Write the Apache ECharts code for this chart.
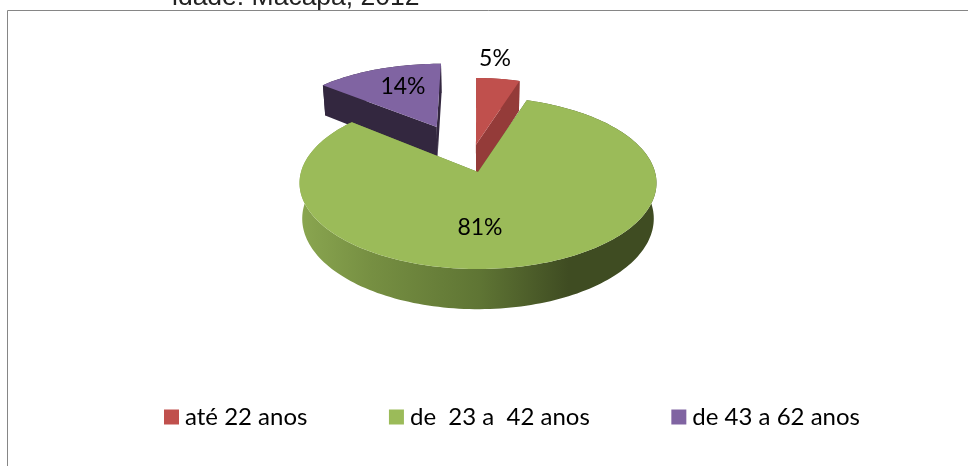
<!DOCTYPE html>
<html lang="pt">
<head>
    <meta charset="utf-8"/>
    <title>Idade</title>
    <style>
        html, body { margin: 0; padding: 0; background: #fff; overflow: hidden; }
        #chart { width: 968px; height: 466px; }
    </style>
    <script src="https://cdn.jsdelivr.net/npm/echarts@6/dist/echarts.min.js"></script>
</head>
<body>
    <div id="chart"></div>
    <script>
        const titleText = 'idade. Macapá, 2012';
        const categories = ['até 22 anos', 'de  23 a  42 anos', 'de 43 a 62 anos'];
        const percents = [5, 81, 14];

        // colours, per category
        const topColors = ['#c0504d', '#9bbb59', '#8064a2'];
        const sideColors = ['#943b39', '#5f7534', '#33273f'];
        // how far each slice is pulled out on the pie's plane, in radii
        const explodeU = [-0.012, 0, -0.25];
        const explodeV = [-0.335, 0, -0.57];
        const scaleU = [0.92, 1, 0.985];
        const scaleV = [0.96, 1, 0.96];
        const labelX = [495, 480, 403];
        const labelY = [59, 228, 87];
        // green goes last so it covers the feet of the other two
        const drawOrder = [1, 3, 2];

        // perspective of the pie plane
        const cx = 478, radius = 177;
        const persp = { a: 62.6, b: 172, c: -0.128 };
        const depth = 35, footShrink = 0.985;

        function project(u, v) {
            const den = persp.c * v + 1;
            return [cx + radius * u / den, (persp.a * v + persp.b) / den];
        }
        function foot(u, v) {
            const den = persp.c * v + 1;
            const p = project(u, v);
            return [cx + (p[0] - cx) * footShrink, p[1] + depth / den];
        }
        function arc(fn, idx, from, to) {
            const pts = [];
            const steps = Math.max(2, Math.ceil((to - from) / 1.5));
            for (let i = 0; i <= steps; i++) {
                const deg = from + (to - from) * i / steps;
                const rad = deg * Math.PI / 180;
                pts.push(fn(explodeU[idx] + scaleU[idx] * Math.sin(rad), explodeV[idx] - scaleV[idx] * Math.cos(rad)));
            }
            return pts;
        }

        function sliceRenderer(idx) {
            const total = percents.reduce((s, x) => s + x, 0);
            const before = percents.slice(0, idx).reduce((s, x) => s + x, 0);
            const from = before / total * 360;
            const to = (before + percents[idx]) / total * 360;
            return function () {
                const apexTop = project(explodeU[idx], explodeV[idx]);
                const apexFoot = foot(explodeU[idx], explodeV[idx]);
                const rimTop = arc(project, idx, from, to);
                const rimFoot = arc(foot, idx, from, to);
                let sideFill = sideColors[idx];
                if (idx === 1) {
                    sideFill = new echarts.graphic.LinearGradient(300, 0, 658, 0, [
                        { offset: 0, color: '#8aa650' },
                        { offset: 0.2, color: '#768f42' },
                        { offset: 0.5, color: '#5f7534' },
                        { offset: 0.75, color: '#3f4c22' },
                        { offset: 1, color: '#3f4c22' }
                    ], true);
                }
                const last = rimTop.length - 1;
                return {
                    type: 'group',
                    children: [
                        { type: 'polygon', shape: { points: rimTop.concat(rimFoot.slice().reverse()) }, style: { fill: sideFill } },
                        { type: 'polygon', shape: { points: [apexTop, rimTop[0], rimFoot[0], apexFoot] }, style: { fill: sideFill } },
                        { type: 'polygon', shape: { points: [apexTop, rimTop[last], rimFoot[last], apexFoot] }, style: { fill: sideFill } },
                        { type: 'polygon', shape: { points: [apexTop].concat(rimTop) }, style: { fill: topColors[idx] } },
                        {
                            type: 'text', z2: 10,
                            style: {
                                x: labelX[idx], y: labelY[idx], text: percents[idx] + '%',
                                fill: '#000', font: '23px Lato', align: 'center', verticalAlign: 'middle'
                            }
                        }
                    ]
                };
            };
        }

        const chart = echarts.init(document.getElementById('chart'), null, { renderer: 'canvas' });
        chart.setOption({
            animation: false,
            title: {
                text: titleText, left: 167, top: -21,
                textStyle: { fontFamily: 'Liberation Sans', fontSize: 26.5, fontWeight: 'normal', color: '#222' }
            },
            legend: {
                left: 159, top: 400, icon: 'rect', itemWidth: 15, itemHeight: 15, itemGap: 81.5,
                data: categories, selectedMode: false,
                textStyle: { fontFamily: 'Lato', fontSize: 24, color: '#000', padding: [0, 0, 0, 1] }
            },
            graphic: [{
                type: 'rect', silent: true, z: -1,
                shape: { x: 7.5, y: 10.5, width: 1000, height: 500 },
                style: { fill: '#fff', stroke: '#868686', lineWidth: 1 }
            }],
            series: categories.map((name, idx) => ({
                type: 'custom',
                name: name,
                coordinateSystem: 'none',
                z: drawOrder[idx],
                silent: true,
                itemStyle: { color: topColors[idx] },
                data: [percents[idx]],
                renderItem: sliceRenderer(idx)
            }))
        });
    </script>
</body>
</html>
